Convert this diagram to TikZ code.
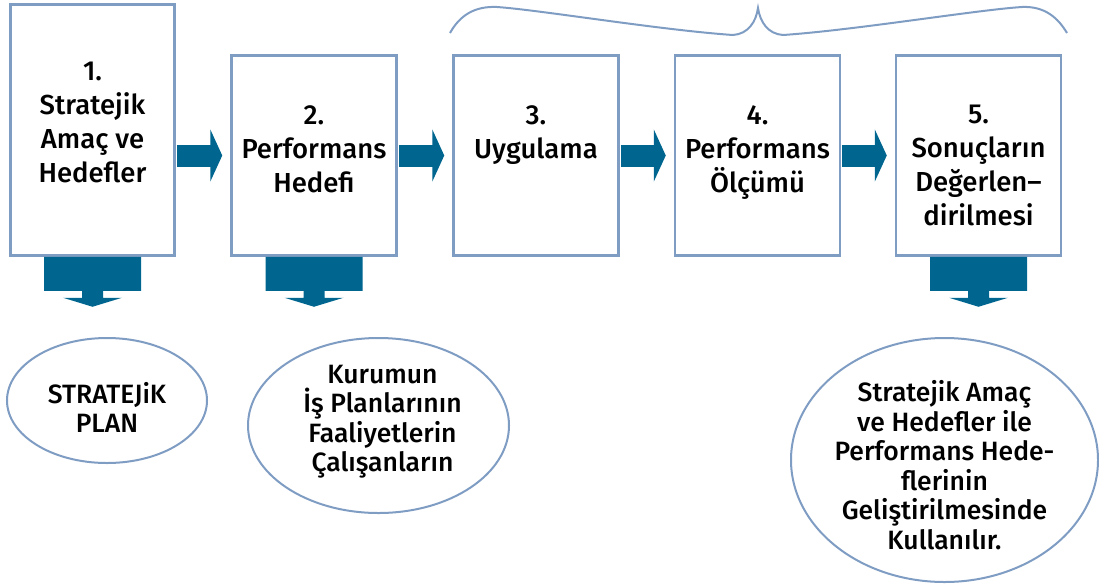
\documentclass[tikz,border=0pt]{standalone}
\usepackage{fontspec}
\setmainfont{Fira Sans}[UprightFont={* Medium}]
\usetikzlibrary{arrows.meta,positioning,shapes.geometric}
\definecolor{framecol}{RGB}{127,157,195}
\definecolor{flowcol}{RGB}{0,102,143}

\tikzset{
  stage/.style={draw=framecol, line width=2.5pt, fill=white, minimum width=165pt, minimum height=200pt, inner sep=0pt},
  stagetext/.style={align=center, inner sep=0pt, font=\fontsize{27.5}{34}\selectfont},
  oval/.style={ellipse, draw=framecol, line width=2pt, inner sep=0pt},
  ovaltext/.style={align=center, inner sep=0pt, font=\fontsize{26.5}{29.5}\selectfont},
  flow/.style={draw=flowcol, line width=22pt, -{Triangle[length=12pt,width=52pt]}, shorten <=1pt, shorten >=8pt},
}

\begin{document}
\begin{tikzpicture}[x=1pt,y=-1pt]
    \newcommand\downblock[1]{%
      \fill[flowcol, shift={(#1.south)}] (-48.5,0) -- (48.5,0) -- (48.5,34) -- (10.5,34) -- (10.5,41) -- (29.5,41)
        -- (0,50) -- (-29.5,41) -- (-10.5,41) -- (-10.5,34) -- (-48.5,34) -- cycle;}

    \useasboundingbox (0,0) rectangle (1099,584);

    % the five stages
    \node[stage, minimum width=164pt, minimum height=251pt] (b1) at (92.5,130) {};
    \node[stage] (b2) at (314,155.5) {};
    \node[stage] (b3) at (536,155.5) {};
    \node[stage] (b4) at (757.5,155.5) {};
    \node[stage] (b5) at (978.5,155.5) {};

    \node[stagetext, below=59pt of b1.north] (l1) {1.\\Stratejik\\Amaç ve\\Hedefler};
    \node[stagetext, below=51pt of b2.north] (l2) {2.\\Performans\\Hedefi};
    \node[stagetext, below=51pt of b3.north] (l3) {3.\\Uygulama};
    \node[stagetext, below=51pt of b4.north] (l4) {4.\\Performans\\Ölçümü};
    \node[stagetext, below=51pt of b5.north] (l5) {5.\\Sonuçların\\Değerlen–\\dirilmesi};

    % flow between stages
    \draw[flow] (b1.east |- b2.west) -- (b2.west);
    \draw[flow] (b2.east) -- (b3.west);
    \draw[flow] (b3.east) -- (b4.west);
    \draw[flow] (b4.east) -- (b5.west);

    % results below
    \downblock{b1}
    \downblock{b2}
    \downblock{b5}

    \node[oval, minimum width=200pt, minimum height=125pt] (e1) at (107,400.5) {};
    \node[oval, minimum width=261pt, minimum height=175pt] (e2) at (378.5,425.5) {};
    \node[oval, minimum width=307pt, minimum height=244pt] (e3) at (944.5,460) {};

    \node[ovaltext] (t1) at ([yshift=-7pt]e1.center) {STRATEJiK\\PLAN};
    \node[ovaltext] (t2) at ([xshift=4pt,yshift=4pt]e2.center) {Kurumun\\İş Planlarının\\Faaliyetlerin\\Çalışanların};
    \node[ovaltext] (t3) at ([yshift=-5pt]e3.center) {Stratejik Amaç\\ve Hedefler ile\\Performans Hede-\\flerinin\\Geliştirilmesinde\\Kullanılır.};

    % brace over stages 3-5
    \draw[framecol, line width=2pt] (450,33) .. controls (460,15) and (475,6) .. (497,7)
      .. controls (540,10) and (660,30) .. (733,35) .. controls (748,34) and (756,22) .. (758,8)
      .. controls (760,22) and (768,34) .. (783,35) .. controls (856,30) and (976,10) .. (1022,7)
      .. controls (1045,6) and (1058,18) .. (1067,33);
\end{tikzpicture}
\end{document}
